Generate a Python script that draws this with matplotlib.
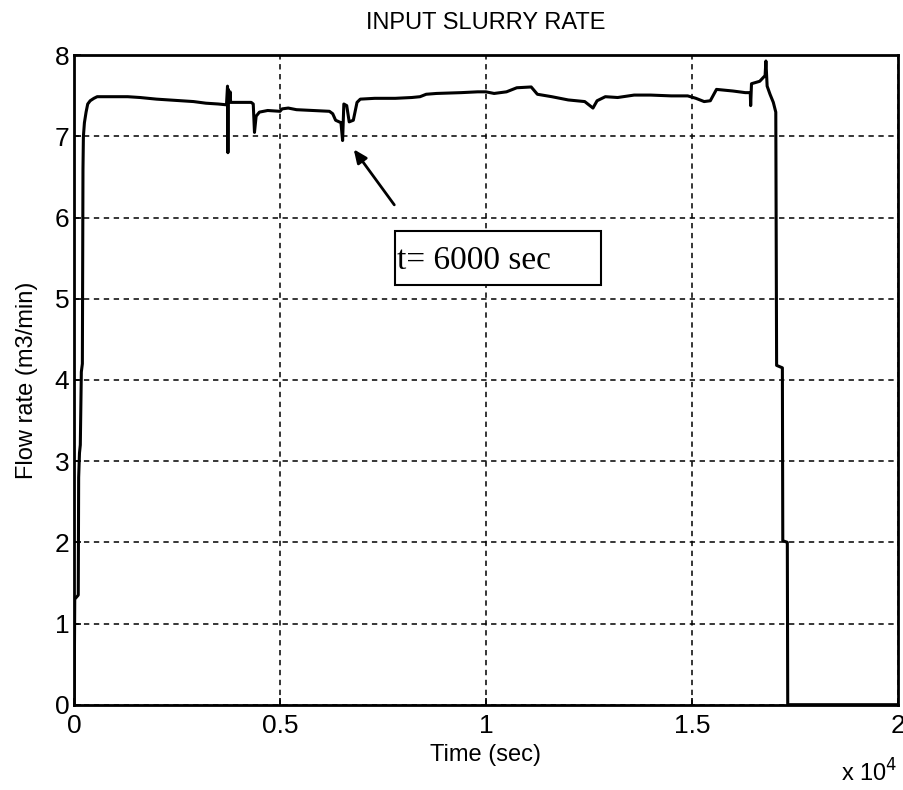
import matplotlib
matplotlib.use("Agg")
from matplotlib import pyplot as plt
from matplotlib.patches import Rectangle
from matplotlib.ticker import FuncFormatter

# flow record (time in sec, rate in m3/min)
time_sec = [0, 15, 100, 110, 130, 150, 175, 200, 215, 225, 250, 290, 330, 390, 480, 560,
            900, 1300, 1600, 1800, 2000, 2300, 2600, 2900, 3200, 3500, 3700,
            3725, 3735, 3745, 3760, 3790, 3800, 4300, 4350, 4380, 4420, 4500,
            4700, 5000, 5050, 5200, 5400, 5800, 6200, 6280, 6350, 6480, 6520,
            6550, 6620, 6680, 6780, 6870, 6950, 7300, 7800, 8200, 8400, 8550,
            8800, 9400, 9800, 10000, 10200, 10500, 10750, 11100, 11250, 11600,
            12000, 12400, 12600, 12700, 12900, 13200, 13600, 14000, 14500, 14900,
            15100, 15300, 15450, 15600, 16000, 16300, 16420, 16430, 16450, 16650,
            16780, 16800, 16830, 16900, 16980, 17040, 17060, 17200, 17210, 17320,
            17330, 20000]
flow_rate = [0.0, 1.3, 1.35, 2.8, 3.1, 3.2, 4.1, 4.2, 6.6, 7.0, 7.17, 7.3, 7.4, 7.44, 7.47, 7.49,
             7.49, 7.49, 7.48, 7.47, 7.46, 7.45, 7.44, 7.43, 7.41, 7.40, 7.39,
             7.62, 6.80, 7.58, 7.42, 7.55, 7.42, 7.42, 7.40, 7.05, 7.25, 7.30,
             7.32, 7.31, 7.34, 7.35, 7.33, 7.32, 7.31, 7.28, 7.20, 7.17, 6.95,
             7.40, 7.38, 7.18, 7.20, 7.42, 7.46, 7.47, 7.47, 7.48, 7.49, 7.52,
             7.53, 7.54, 7.55, 7.55, 7.53, 7.55, 7.60, 7.61, 7.52, 7.49,
             7.45, 7.43, 7.35, 7.44, 7.49, 7.48, 7.51, 7.51, 7.50, 7.50,
             7.47, 7.43, 7.44, 7.58, 7.56, 7.54, 7.54, 7.38, 7.65, 7.68,
             7.75, 7.93, 7.62, 7.52, 7.42, 7.30, 4.18, 4.15, 2.02, 2.0,
             0.0, 0.0]

x_ticks = [0, 5000, 10000, 15000, 20000]
y_ticks = [0, 1, 2, 3, 4, 5, 6, 7, 8]

plt.rcParams['font.family'] = ['Liberation Sans', 'DejaVu Sans']

fig = plt.figure(figsize=(9.04, 7.90), dpi=100)
ax = fig.add_axes([0.082, 0.108, 0.911, 0.822])

ax.plot(time_sec, flow_rate, color='black', lw=2.2)

ax.set_xlim(0, 20000)
ax.set_ylim(0, 8)
ax.set_xticks(x_ticks)
ax.set_yticks(y_ticks)
ax.xaxis.set_major_formatter(FuncFormatter(lambda v, p: '%g' % (v / 1e4)))
ax.tick_params(direction='in', length=5, labelsize=19, width=1.2)
ax.tick_params(axis='x', pad=7)
ax.grid(True, color='black', linestyle=(0, (3.5, 3)), lw=1.1)
for s in ax.spines.values():
    s.set_linewidth(2.0)

ax.set_title('INPUT SLURRY RATE', fontsize=17, pad=19)
ax.set_xlabel('Time (sec)', fontsize=17, labelpad=4)
ax.set_ylabel('Flow rate (m3/min)', fontsize=17, labelpad=12)
fig.text(0.930, 0.004, 'x 10$^{\\mathsf{4}}$', fontsize=17, ha='left', va='bottom')

# annotation box and arrow
ax.add_patch(Rectangle((0.3896, 0.646), 0.25, 0.083, transform=ax.transAxes,
                       facecolor='white', edgecolor='black', lw=1.5, zorder=5))
ax.text(0.3925, 0.683, 't= 6000 sec', transform=ax.transAxes, fontsize=24,
        family='Liberation Serif', va='center', ha='left', zorder=6)
ax.annotate('', xy=(6750, 6.87), xytext=(7815, 6.13),
            arrowprops=dict(arrowstyle='-|>,head_length=0.8,head_width=0.35',
                            color='black', lw=2))

plt.savefig('out.png')
